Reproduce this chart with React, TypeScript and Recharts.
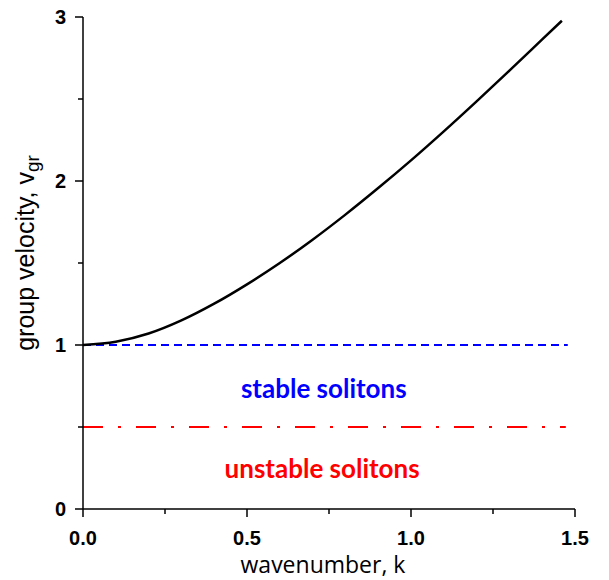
import { LineChart, Line, XAxis, YAxis, ReferenceDot } from 'recharts';

// wavenumber k and group velocity
const K = [0, 0.1, 0.2, 0.3, 0.4, 0.5, 0.6, 0.7, 0.8, 0.9, 1.0, 1.1, 1.2, 1.3, 1.4, 1.46];
const VGR = [1.0, 1.02, 1.07, 1.15, 1.252, 1.37, 1.5, 1.642, 1.795, 1.957, 2.126, 2.303, 2.486, 2.673, 2.863, 2.977];

// threshold lines
const STABLE_K = [0, 1.478];
const STABLE_V = [1, 1];
const UNSTABLE_K = [0, 1.472];
const UNSTABLE_V = [0.5, 0.5];

const X_TICKS = [0, 0.25, 0.5, 0.75, 1.0, 1.25, 1.5];
const Y_TICKS = [0, 0.5, 1, 1.5, 2, 2.5, 3];

const curveData = K.map((k, i) => ({ k, v: VGR[i] }));
const stableData = STABLE_K.map((k, i) => ({ k, v: STABLE_V[i] }));
const unstableData = UNSTABLE_K.map((k, i) => ({ k, v: UNSTABLE_V[i] }));

const TICK_FONT = { fontFamily: '"Liberation Sans", Arial, sans-serif', fontWeight: 700, fontSize: 20 };

const isMajor = (v: number, step: number) => Math.abs(v / step - Math.round(v / step)) < 1e-6;

function XTick({ x, y, payload }: any) {
  const major = isMajor(payload.value, 0.5);
  return (
    <g>
      <line x1={x} y1={y} x2={x} y2={y + (major ? 8 : 5)} stroke="#000" strokeWidth={1.5} />
      {major && (
        <text x={x} y={y + 36} textAnchor="middle" fill="#000" {...TICK_FONT}>
          {payload.value.toFixed(1)}
        </text>
      )}
    </g>
  );
}

function YTick({ x, y, payload }: any) {
  const major = isMajor(payload.value, 1);
  return (
    <g>
      <line x1={x} y1={y} x2={x - (major ? 8 : 5)} y2={y} stroke="#000" strokeWidth={1.5} />
      {major && (
        <text x={x - 17} y={y + 7} textAnchor="end" fill="#000" {...TICK_FONT}>
          {payload.value}
        </text>
      )}
    </g>
  );
}

function XLabel({ viewBox }: any) {
  const { x, y, width } = viewBox;
  return (
    <text
      x={x + width / 2 - 6}
      y={y + 64}
      textAnchor="middle"
      fill="#000"
      fontFamily='"Open Sans", sans-serif'
      fontSize={23}
    >
      wavenumber, k
    </text>
  );
}

function YLabel({ viewBox }: any) {
  const { y, height } = viewBox;
  const cx = 34;
  const cy = y + height / 2 - 10;
  return (
    <text
      x={cx}
      y={cy}
      transform={`rotate(-90, ${cx}, ${cy})`}
      textAnchor="middle"
      fill="#000"
      fontFamily='"Liberation Sans", Arial, sans-serif'
      fontSize={25}
    >
      group velocity, v
      <tspan fontSize={19} dy={5}>
        gr
      </tspan>
    </text>
  );
}

function RegionText({ viewBox, text, color }: any) {
  const cx = viewBox.x + viewBox.width / 2;
  const cy = viewBox.y + viewBox.height / 2;
  return (
    <text
      x={cx}
      y={cy}
      textAnchor="middle"
      fill={color}
      fontFamily='Lato, "Open Sans", sans-serif'
      fontWeight={700}
      fontSize={26}
    >
      {text}
    </text>
  );
}

export default function App() {
  return (
    <div style={{ position: 'absolute', left: 0, top: 0, background: '#fff' }}>
      <LineChart width={609} height={580} margin={{ top: 17, right: 34, bottom: 0, left: 0 }}>
        <XAxis
          type="number"
          dataKey="k"
          domain={[0, 1.5]}
          ticks={X_TICKS}
          height={71}
          tickSize={0}
          tickMargin={0}
          tickLine={false}
          axisLine={{ stroke: '#000', strokeWidth: 1.5 }}
          tick={<XTick />}
          label={<XLabel />}
          allowDuplicatedCategory={false}
        />
        <YAxis
          type="number"
          dataKey="v"
          domain={[0, 3]}
          ticks={Y_TICKS}
          width={83}
          tickSize={0}
          tickMargin={0}
          tickLine={false}
          axisLine={{ stroke: '#000', strokeWidth: 1.5 }}
          tick={<YTick />}
          label={<YLabel />}
        />
        <Line
          data={stableData}
          dataKey="v"
          type="linear"
          stroke="#0000ff"
          strokeWidth={2}
          strokeDasharray="8 5"
          dot={false}
          isAnimationActive={false}
        />
        <Line
          data={unstableData}
          dataKey="v"
          type="linear"
          stroke="#ff0000"
          strokeWidth={2}
          strokeDasharray="20 15 3 15"
          dot={false}
          isAnimationActive={false}
        />
        <Line
          data={curveData}
          dataKey="v"
          type="monotone"
          stroke="#000"
          strokeWidth={2.5}
          dot={false}
          isAnimationActive={false}
        />
        <ReferenceDot
          x={0.734}
          y={0.675}
          r={0}
          stroke="none"
          fill="none"
          label={<RegionText text="stable solitons" color="#0000ff" />}
        />
        <ReferenceDot
          x={0.729}
          y={0.187}
          r={0}
          stroke="none"
          fill="none"
          label={<RegionText text="unstable solitons" color="#ff0000" />}
        />
      </LineChart>
    </div>
  );
}
